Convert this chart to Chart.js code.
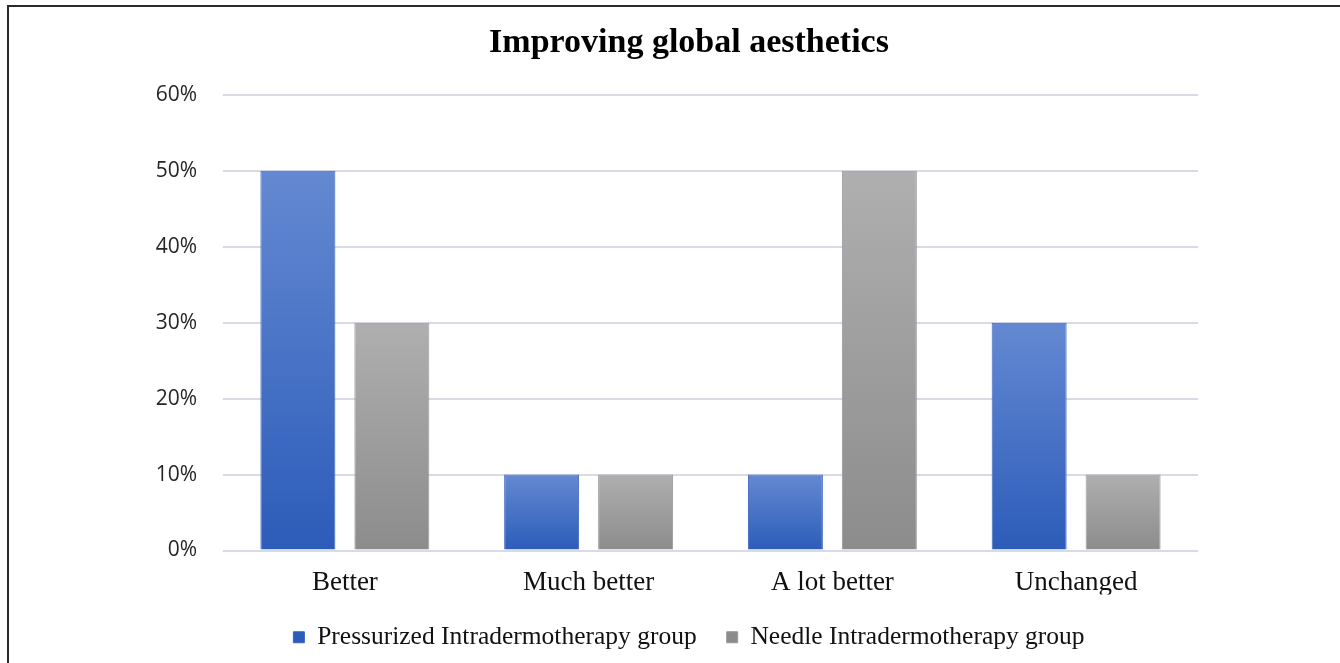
<!DOCTYPE html>
<html>
<head>
<meta charset="utf-8">
<script src="https://cdn.jsdelivr.net/npm/chart.js@4/dist/chart.umd.min.js"></script>
<style>
  html, body { margin: 0; padding: 0; background: #fff; }
  #wrap { position: relative; width: 1340px; height: 663px; }
  #frame { position: absolute; left: 7px; top: 5px; right: 0; bottom: 0;
           border-left: 2px solid #2b2b2b; border-top: 2px solid #2b2b2b; pointer-events: none; }
  canvas { display: block; }
</style>
</head>
<body>
<div id="wrap">
  <canvas id="chart" width="1340" height="663"></canvas>
  <div id="frame"></div>
</div>
<script>
// Response categories and share of patients (%) per group
const categories = ['Better', 'Much better', 'A lot better', 'Unchanged'];
const pressurized = [50, 10, 10, 30];
const needle = [30, 10, 50, 10];
const seriesNames = ['Pressurized Intradermotherapy group', 'Needle Intradermotherapy group'];
const yTicks = [0, 10, 20, 30, 40, 50, 60];

// Vertical gradient from the top of each bar down to the baseline
function barFill(topColor, bottomColor, flat) {
  return (ctx) => {
    if (ctx.type !== 'data') return flat;
    const chart = ctx.chart;
    const y = chart.scales && chart.scales.y;
    if (!chart.chartArea || !y) return flat;
    const v = ctx.dataset.data[ctx.dataIndex];
    const y0 = y.getPixelForValue(v);
    const y1 = y.getPixelForValue(0);
    if (!isFinite(y0) || !isFinite(y1) || y0 === y1) return flat;
    const g = chart.ctx.createLinearGradient(0, y0, 0, y1);
    g.addColorStop(0, topColor);
    g.addColorStop(1, bottomColor);
    return g;
  };
}

const serif = '"Liberation Serif", "Times New Roman", serif';
const sans = '"Open Sans", "Noto Sans", sans-serif';

new Chart(document.getElementById('chart'), {
  type: 'bar',
  data: {
    labels: categories,
    datasets: [
      {
        label: seriesNames[0],
        data: pressurized,
        backgroundColor: barFill('#6489d2', '#2c5cb9', '#3e69c6'),
        borderColor: '#3a64bd',
        borderWidth: 1,
        categoryPercentage: 0.771,
        barPercentage: 0.798
      },
      {
        label: seriesNames[1],
        data: needle,
        backgroundColor: barFill('#afafaf', '#8c8c8c', '#9c9c9c'),
        borderColor: '#999999',
        borderWidth: 1,
        categoryPercentage: 0.771,
        barPercentage: 0.798
      }
    ]
  },
  options: {
    responsive: false,
    animation: false,
    devicePixelRatio: 1,
    layout: { padding: { left: 114, right: 76, top: 0, bottom: 3 } },
    plugins: {
      title: {
        display: true,
        text: 'Improving global aesthetics',
        color: '#000',
        font: { family: serif, size: 34, weight: 'bold' },
        padding: { top: 23, bottom: 31 }
      },
      legend: {
        position: 'bottom',
        labels: {
          color: '#111',
          font: { family: serif, size: 25.5 },
          boxWidth: 11,
          boxHeight: 11,
          padding: 30
        }
      },
      tooltip: { enabled: false }
    },
    scales: {
      x: {
        grid: { display: false, drawTicks: false },
        border: { display: false },
        ticks: { color: '#111', font: { family: serif, size: 27 }, padding: 16 },
        afterFit: (s) => { s.height = 44; }
      },
      y: {
        min: 0,
        max: 60,
        afterBuildTicks: (s) => { s.ticks = yTicks.map(v => ({ value: v })); },
        grid: { color: '#d8dbe6', lineWidth: 2, drawTicks: false },
        border: { display: false },
        ticks: {
          color: '#262626',
          font: { family: sans, size: 21 },
          padding: 26,
          callback: (v) => v + '%'
        },
        afterFit: (s) => { s.width = 109; }
      },
      // empty spacer axis on the right edge of the plot
      yRight: {
        type: 'linear',
        position: 'right',
        grid: { display: false, drawTicks: false },
        border: { display: false },
        ticks: { display: false },
        afterFit: (s) => { s.width = 66; }
      }
    }
  }
});
</script>
</body>
</html>
